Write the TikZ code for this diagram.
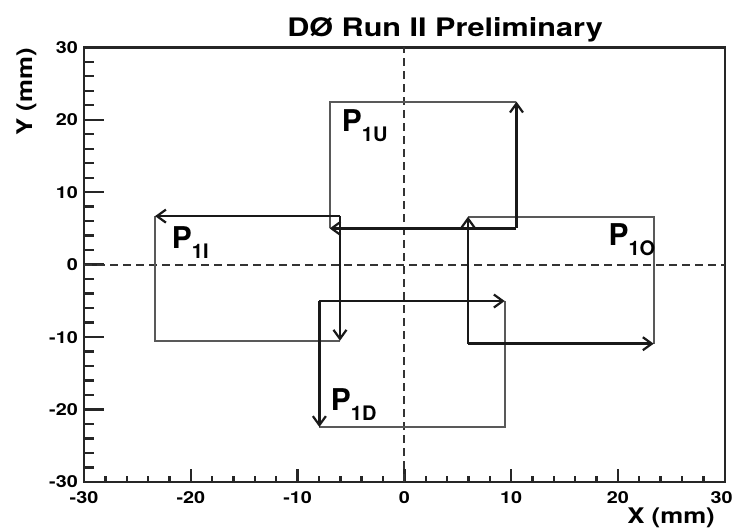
\documentclass[tikz,border=0pt]{standalone}
\usepackage{fontspec}
\setmainfont{TeX Gyre Heros}
\newfontfamily\widefont[FakeStretch=1.2]{TeX Gyre Heros}
\usepackage{tikz}
\usetikzlibrary{arrows.meta,positioning,calc}

\tikzset{
    frameline/.style={line width=2.4pt,black!85},
    axisdash/.style={line width=1.8pt,black!80,dash pattern=on 8pt off 5pt},
    edgeline/.style={line width=2.2pt,black!65},
    shiftarrow/.style={line width=2.6pt,black!90,-{Straight Barb[length=9pt,width=13pt,line width=2.2pt]}},
    ticklbl/.style={font=\widefont\bfseries\fontsize{16.5}{18}\selectfont,inner sep=0pt},
    axislbl/.style={font=\widefont\bfseries\fontsize{21.5}{24}\selectfont,inner sep=0pt},
    padlbl/.style={font=\bfseries\fontsize{30}{30}\selectfont,inner sep=0pt,anchor=base west}
}
\newcommand{\padname}[1]{P\raisebox{-10pt}{\fontsize{20}{20}\selectfont #1}}

\begin{document}
\begin{tikzpicture}[x=10.678pt,y=7.245pt]
    \useasboundingbox (-37.87,-36.90) rectangle (30.87,36.53);

    % Frame and ticks
    \draw[frameline] (-30,-30) rectangle (30,30);
    \foreach \v in {-28,-26,...,28} {
        \draw[frameline] (-30,\v) -- ++(10pt,0);
        \draw[frameline] (\v,-30) -- ++(0,6pt);
    }
    \foreach \v in {-20,-10,...,20} {
        \draw[frameline] (-30,\v) -- ++(20pt,0);
        \draw[frameline] (\v,-30) -- ++(0,13pt);
    }
    \foreach \v in {-30,-20,...,30} {
        \node[ticklbl,anchor=east] at ([xshift=-6pt]-30,\v) {\v};
    }
    \foreach \v in {-30,-20,...,20} {
        \node[ticklbl,anchor=north] at ([yshift=-9pt]\v,-30) {\v};
    }
    \node[ticklbl,anchor=north] at ([xshift=-3pt,yshift=-9pt]30,-30) {30};

    % Axis titles
    \node[axislbl,anchor=base east] (xtitle) at (29.09,-35.66) {X (mm)};
    \node[axislbl,anchor=base east,rotate=90] (ytitle) at (-34.87,29.9) {Y (mm)};
    \node[font=\widefont\bfseries\fontsize{25.5}{28}\selectfont,inner sep=0pt,anchor=base] (title) at (3.81,31.46) {DØ Run II Preliminary};

    % Centre lines
    \draw[axisdash] (0,-30) -- (0,30);
    \draw[axisdash] (-30,0) -- (30,0);

    % Pad corners
    \coordinate (u1) at (-7,22.5);      \coordinate (u2) at (10.5,22.5);
    \coordinate (u3) at (10.5,5);       \coordinate (u4) at (-7,5);
    \coordinate (i1) at (-23.35,6.7);   \coordinate (i2) at (-6.03,6.7);
    \coordinate (i3) at (-6.03,-10.5);  \coordinate (i4) at (-23.35,-10.5);
    \coordinate (o1) at (5.96,6.62);    \coordinate (o2) at (23.35,6.62);
    \coordinate (o3) at (23.35,-10.91); \coordinate (o4) at (5.96,-10.91);
    \coordinate (d1) at (-7.96,-5.02);  \coordinate (d2) at (9.4,-5.02);
    \coordinate (d3) at (9.4,-22.41);   \coordinate (d4) at (-7.96,-22.41);

    % Pad edges
    \draw[edgeline] (u2) -- (u1) -- (u4);
    \draw[edgeline] (i1) -- (i4) -- (i3);
    \draw[edgeline] (o1) -- (o2) -- (o3);
    \draw[edgeline] (d2) -- (d3) -- (d4);

    % Arrows
    \draw[shiftarrow] (u3) -- (u2);
    \draw[shiftarrow] (u3) -- (u4);
    \draw[shiftarrow] (i2) -- (i1);
    \draw[shiftarrow] (i2) -- (i3);
    \draw[shiftarrow] (o4) -- (o1);
    \draw[shiftarrow] (o4) -- (o3);
    \draw[shiftarrow] (d1) -- (d2);
    \draw[shiftarrow] (d1) -- (d4);

    % Pad labels
    \node[padlbl] (p1u) at (-5.87,18.35) {\padname{1U}};
    \node[padlbl] (p1i) at (-21.79,2.26) {\padname{1I}};
    \node[padlbl] (p1o) at (19.10,2.6) {\padname{1O}};
    \node[padlbl] (p1d) at (-6.90,-20.08) {\padname{1D}};
\end{tikzpicture}
\end{document}
